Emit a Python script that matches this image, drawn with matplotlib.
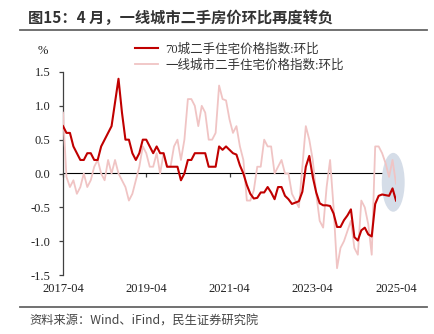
import matplotlib
matplotlib.use("Agg")
import matplotlib.pyplot as plt
from matplotlib.patches import Ellipse
from matplotlib.lines import Line2D
import numpy as np

# Monthly month-on-month change (%), 2017-04 .. 2025-04
months = [f"{y}-{m:02d}" for y in range(2017, 2026) for m in range(1, 13)]
months = months[months.index("2017-04"):months.index("2025-04") + 1]

city70 = [0.7, 0.6, 0.6, 0.4, 0.3, 0.2, 0.2, 0.3, 0.3, 0.2, 0.2, 0.4,
          0.5, 0.6, 0.7, 1.05, 1.4, 0.9, 0.5, 0.5, 0.3, 0.2, 0.3, 0.5,
          0.5, 0.4, 0.3, 0.4, 0.3, 0.3, 0.1, 0.1, 0.1, 0.1, -0.1, 0.0,
          0.2, 0.2, 0.3, 0.3, 0.3, 0.3, 0.1, 0.1, 0.1, 0.4, 0.35, 0.4,
          0.35, 0.3, 0.28, 0.12, 0.0, -0.17, -0.3, -0.37, -0.36, -0.28, -0.28, -0.2,
          -0.28, -0.38, -0.2, -0.2, -0.33, -0.38, -0.45, -0.43, -0.41, -0.27, 0.1, 0.26,
          -0.05, -0.28, -0.44, -0.47, -0.47, -0.48, -0.59, -0.79, -0.79, -0.69, -0.62, -0.53,
          -0.94, -0.99, -0.84, -0.8, -0.9, -0.93, -0.45, -0.33, -0.31, -0.32, -0.33, -0.22,
          -0.4]

tier1 = [0.9, -0.05, -0.2, -0.1, -0.3, -0.2, 0.0, -0.2, -0.1, 0.1, 0.2, 0.0,
         -0.1, 0.2, 0.0, 0.2, 0.0, -0.1, -0.2, -0.4, -0.3, -0.1, 0.1, 0.4,
         0.3, 0.1, 0.1, 0.3, 0.0, 0.3, 0.1, 0.1, 0.4, 0.5, 0.2, 0.5,
         1.1, 1.1, 1.0, 0.7, 1.0, 0.9, 0.5, 0.5, 0.6, 1.3, 1.1, 1.08,
         0.8, 0.6, 0.7, 0.4, 0.2, -0.4, -0.4, -0.25, 0.1, 0.1, 0.5, 0.4,
         0.4, 0.0, 0.1, 0.2, 0.0, 0.0, -0.3, -0.4, -0.5, 0.1, 0.7, 0.5,
         0.2, -0.3, -0.7, -0.8, -0.2, 0.2, -0.5, -1.4, -1.1, -1.0, -0.85, -0.7,
         -1.1, -1.2, -0.4, -0.5, -0.75, -1.2, 0.4, 0.4, 0.3, 0.15, -0.05, 0.2,
         -0.15]

xtick_labels = ["2017-04", "2019-04", "2021-04", "2023-04", "2025-04"]
yticks = [-1.5, -1.0, -0.5, 0.0, 0.5, 1.0, 1.5]
series_names = ["70城二手住宅价格指数:环比", "一线城市二手住宅价格指数:环比"]

title = "图15：4 月，一线城市二手房价环比再度转负"
source = "资料来源：Wind、iFind，民生证券研究院"

RED = "#c00000"
PINK = "#f0c4c4"
serif = ["Liberation Serif", "Noto Sans CJK SC"]
sans = ["Noto Sans CJK SC", "DejaVu Sans"]

W, H = 434, 334
fig = plt.figure(figsize=(W / 100, H / 100), dpi=100)

def fx(px):
    return px / W

def fy(py):
    return 1 - py / H

ax = fig.add_axes([fx(63), fy(275), fx(396) - fx(63), fy(72) - fy(275)])
x = np.arange(len(months))

ax.plot(x, tier1, color=PINK, lw=1.3, zorder=3)
ax.plot(x, city70, color=RED, lw=1.5, zorder=4)

# highlight the latest readings
last = len(months) - 1
ax.add_patch(Ellipse((last - 0.8, -0.13), 6.6, 0.87, facecolor="#d5dde8",
                     edgecolor="none", zorder=1, clip_on=False))

ax.set_xlim(0, last)
ax.set_ylim(-1.5, 1.5)
ax.set_yticks(yticks)
ax.set_yticklabels([f"{v:.1f}" for v in yticks], family=serif, fontsize=9,
                   color="#222222")
ax.set_xticks([months.index(m) for m in xtick_labels])
ax.set_xticklabels(xtick_labels, family=serif, fontsize=9, color="#222222")
ax.tick_params(axis="x", length=0, pad=6)
ax.tick_params(axis="y", length=3, width=0.9, color="#404040", pad=6)

for s in ["top", "right", "bottom"]:
    ax.spines[s].set_visible(False)
ax.spines["left"].set_color("#404040")
ax.spines["left"].set_linewidth(0.9)

# zero axis with its own small ticks
zero_ax = ax.secondary_xaxis(0.5)
zero_ax.set_xticks(ax.get_xticks())
zero_ax.set_xticklabels([])
zero_ax.tick_params(length=3, width=0.9, color="#404040", direction="in")
zero_ax.spines["bottom"].set_color("#404040")
zero_ax.spines["bottom"].set_linewidth(1.0)
zero_ax.spines["bottom"].set_zorder(2)

fig.text(fx(43), fy(51), "%", family=serif, fontsize=9, color="#222222",
         ha="center", va="center")

handles = [Line2D([], [], color=RED, lw=1.5), Line2D([], [], color=PINK, lw=1.3)]
leg = fig.legend(handles, series_names, loc="upper left",
                 bbox_to_anchor=(fx(135), fy(43)), frameon=False,
                 borderpad=0, borderaxespad=0, handlelength=1.85,
                 handletextpad=0.6, labelspacing=0.3,
                 prop={"family": serif, "size": 9})
for t in leg.get_texts():
    t.set_color("#333333")

fig.text(fx(28), fy(18), title, family=sans, fontsize=11, fontweight="bold",
         color="#333333", ha="left", va="center")
fig.add_artist(Line2D([fx(20), fx(427)], [fy(30), fy(30)], color="#666666", lw=1.3))
fig.add_artist(Line2D([fx(20), fx(427)], [fy(307), fy(307)], color="#666666", lw=1.3))
fig.text(fx(29), fy(321), source, family=sans, fontsize=8.8, color="#444444",
         ha="left", va="center")

fig.savefig("out.png", dpi=100)
